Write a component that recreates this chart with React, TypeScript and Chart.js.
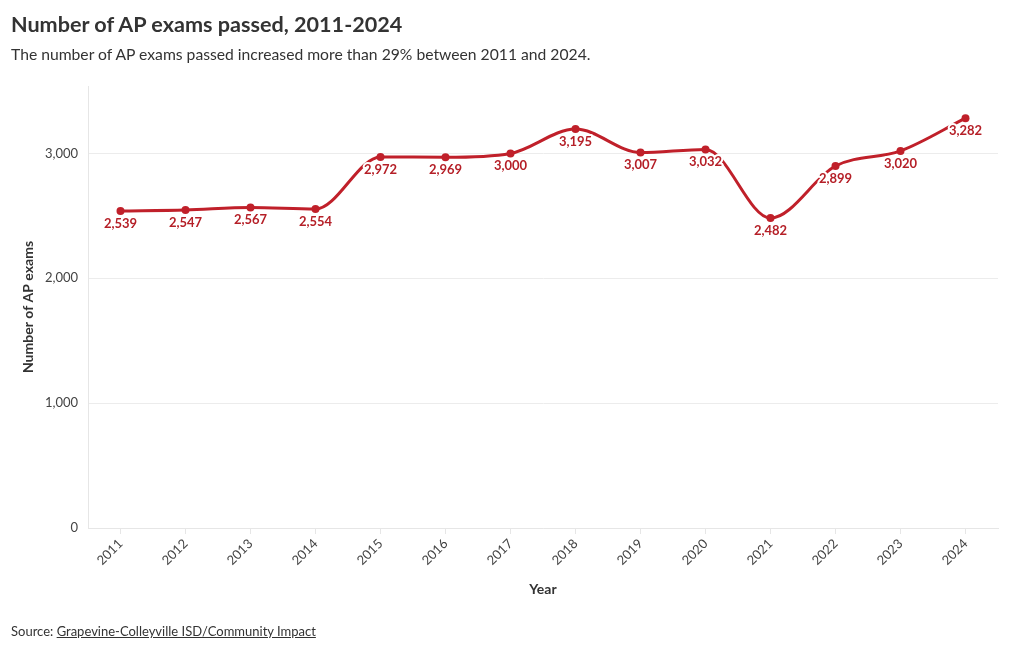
import React, { useEffect, useRef } from "react";
import { Chart, registerables } from "chart.js";

Chart.register(...registerables);

const years: string[] = ["2011","2012","2013","2014","2015","2016","2017","2018","2019","2020","2021","2022","2023","2024"];
const examsPassed: number[] = [2539, 2547, 2567, 2554, 2972, 2969, 3000, 3195, 3007, 3032, 2482, 2899, 3020, 3282];
const yTickValues: number[] = [0, 1000, 2000, 3000];

const titleText = "Number of AP exams passed, 2011-2024";
const subtitleText = "The number of AP exams passed increased more than 29% between 2011 and 2024.";
const yAxisTitle = "Number of AP exams";
const xAxisTitle = "Year";
const sourceLabel = "Source: ";
const sourceName = "Grapevine-Colleyville ISD/Community Impact";

const FONT = "Lato, 'Noto Sans', sans-serif";
const LINE_COLOR = "#c0202a";
const LABEL_COLOR = "#b51f27";

const labelPlugin = {
  id: "pointLabels",
  afterDatasetsDraw(chart: any) {
    const ctx = chart.ctx;
    const meta = chart.getDatasetMeta(0);
    ctx.save();
    ctx.font = `bold 13px ${FONT}`;
    ctx.textAlign = "center";
    ctx.textBaseline = "middle";
    ctx.lineJoin = "round";
    meta.data.forEach((pt: any, i: number) => {
      const txt = examsPassed[i].toLocaleString("en-US");
      const x = pt.x;
      const y = pt.y + 12.5;
      ctx.strokeStyle = "#ffffff";
      ctx.lineWidth = 4;
      ctx.strokeText(txt, x, y);
      ctx.fillStyle = LABEL_COLOR;
      ctx.fillText(txt, x, y);
    });
    ctx.restore();
  },
};

function LineChart() {
  const ref = useRef<HTMLCanvasElement | null>(null);
  useEffect(() => {
    if (!ref.current) return;
    const chart = new Chart(ref.current, {
      type: "line",
      data: {
        labels: years,
        datasets: [
          {
            data: examsPassed,
            borderColor: LINE_COLOR,
            backgroundColor: LINE_COLOR,
            borderWidth: 3,
            pointRadius: 4,
            pointBackgroundColor: LINE_COLOR,
            pointBorderWidth: 0,
            cubicInterpolationMode: "monotone",
            fill: false,
          },
        ],
      },
      options: {
        animation: false,
        responsive: false,
        maintainAspectRatio: false,
        layout: { padding: { top: 86, right: 22, left: 0, bottom: 40 } },
        plugins: {
          legend: { display: false },
          tooltip: { enabled: false },
          title: { display: false },
        },
        scales: {
          x: {
            type: "category",
            offset: true,
            grid: {
              drawOnChartArea: false,
              drawTicks: true,
              tickLength: 6,
              color: "#e6e6e6",
            },
            border: { display: true, color: "#e6e6e6" },
            ticks: {
              minRotation: 45,
              maxRotation: 45,
              color: "#444",
              font: { family: FONT, size: 13 },
              padding: 2,
            },
            title: {
              display: true,
              text: xAxisTitle,
              color: "#333",
              font: { family: FONT, size: 14, weight: "bold" },
              padding: { top: 0, bottom: 12 },
            },
            afterFit: (s: any) => {
              s.height = 82;
            },
          },
          y: {
            type: "linear",
            min: 0,
            max: 3540,
            afterBuildTicks: (s: any) => {
              s.ticks = yTickValues.map((v) => ({ value: v }));
            },
            grid: {
              drawTicks: false,
              color: "#ececec",
            },
            border: { display: true, color: "#e6e6e6" },
            ticks: {
              color: "#444",
              font: { family: FONT, size: 13 },
              padding: 10,
              callback: (v: any) => Number(v).toLocaleString("en-US"),
            },
            title: {
              display: true,
              text: yAxisTitle,
              color: "#333",
              font: { family: FONT, size: 14, weight: "bold" },
              padding: { top: 20, bottom: 0 },
            },
            afterFit: (s: any) => {
              s.width = 88;
            },
          },
        },
      },
      plugins: [labelPlugin],
    } as any);
    return () => chart.destroy();
  }, []);
  return <canvas ref={ref} width={1020} height={650} style={{ position: "absolute", left: 0, top: 0, width: 1020, height: 650 }} />;
}

export default function App() {
  return (
    <div style={{ position: "fixed", left: 0, top: 0, width: 1020, height: 650, background: "#fff", fontFamily: FONT, color: "#333", overflow: "hidden" }}>
      <LineChart />
      <div style={{ position: "absolute", left: 11, top: 9, fontSize: 21.6, fontWeight: 700, lineHeight: "30px", color: "#333" }}>{titleText}</div>
      <div style={{ position: "absolute", left: 11, top: 43, fontSize: 15.7, lineHeight: "22px", color: "#333" }}>{subtitleText}</div>
      <div style={{ position: "absolute", left: 11, top: 622, fontSize: 13, lineHeight: "18px", color: "#333" }}>
        {sourceLabel}
        <span style={{ textDecoration: "underline" }}>{sourceName}</span>
      </div>
    </div>
  );
}
